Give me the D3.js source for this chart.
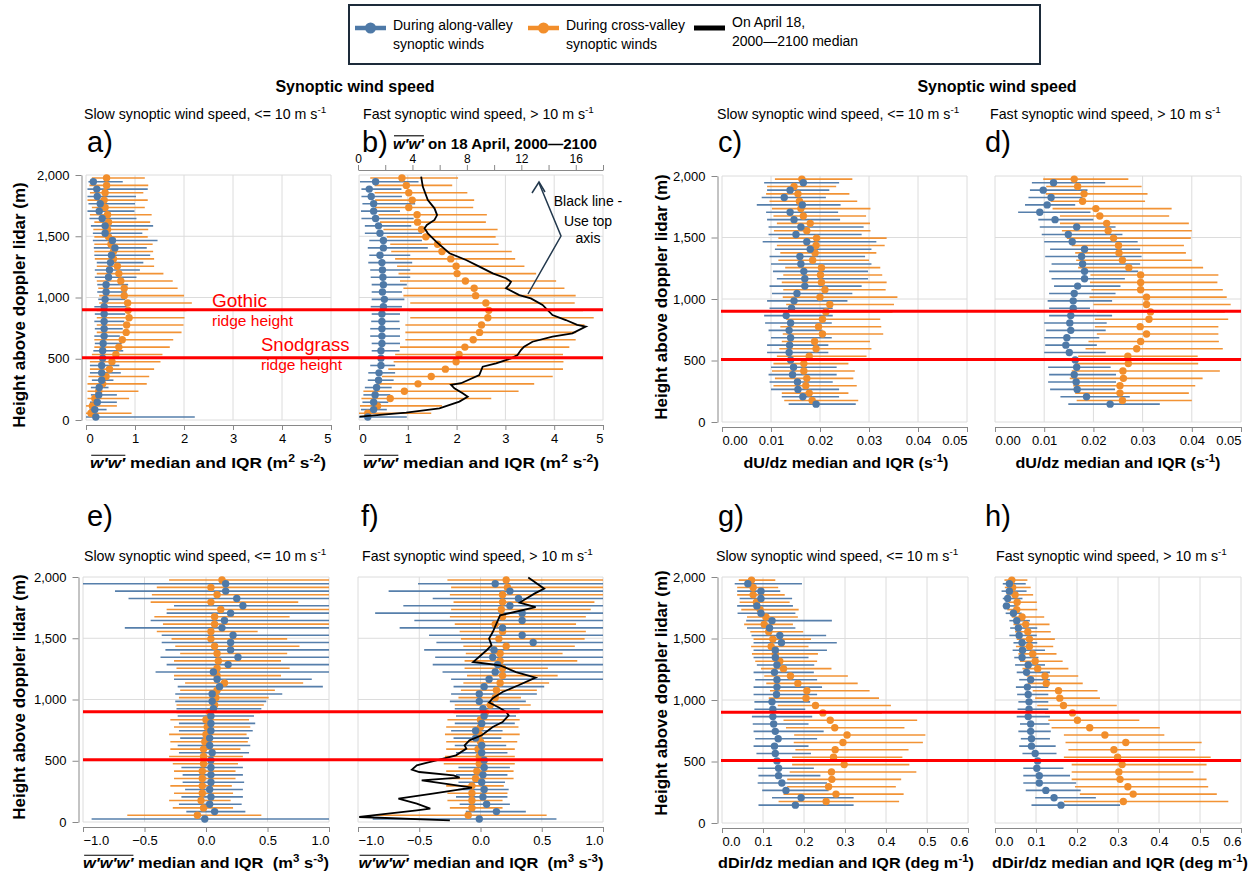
<!DOCTYPE html>
<html><head><meta charset="utf-8">
<script src="https://cdn.jsdelivr.net/npm/d3@7"></script>
<style>
body{margin:0;background:#fff}
svg{display:block}
text{font-family:Arial,"Liberation Sans",Helvetica,sans-serif;white-space:pre}
</style>
</head><body>
<svg id="chart" width="1256" height="876"></svg>
<script>
// ---------------- DATA ----------------
const heightsCross = [1975,1915,1855,1795,1735,1675,1615,1555,1495,1435,1375,1315,1255,1195,1135,1075,1015,955,895,835,775,715,655,595,535,475,415,355,295,235,175,115,55];
const heightsAlong = [1945,1885,1825,1765,1705,1645,1585,1525,1465,1405,1345,1285,1225,1165,1105,1045,985,925,865,805,745,685,625,565,505,445,385,325,265,205,145,85,25];
const yTickValues = [0,500,1000,1500,2000];
const ridgeNames = ["Gothic","Snodgrass"];
const ridgeHeights = [900,508];

// a) w'w' slow
const aCrossMed = [0.42,0.42,0.39,0.37,0.39,0.44,0.46,0.44,0.46,0.51,0.56,0.56,0.64,0.67,0.71,0.78,0.78,0.85,0.86,0.88,0.83,0.82,0.74,0.67,0.61,0.53,0.48,0.41,0.34,0.26,0.18,0.13,0.10];
const aCrossLo  = [0.12,0.07,0.08,0.03,0.12,0.08,0.17,0.15,0.17,0.17,0.17,0.18,0.22,0.22,0.22,0.25,0.27,0.27,0.22,0.22,0.22,0.22,0.17,0.17,0.12,0.08,0.08,0.05,0.03,0.03,0.03,0.0,0.0];
const aCrossHi  = [1.2,1.27,1.17,1.26,1.2,1.34,1.31,1.27,1.26,1.36,1.37,1.39,1.39,1.58,1.77,1.87,2.0,2.16,2.05,2.01,1.99,1.95,1.78,1.71,1.56,1.52,1.39,1.29,1.24,1.07,0.88,0.63,0.93];
const aAlongMed = [0.15,0.22,0.23,0.29,0.27,0.33,0.39,0.39,0.54,0.59,0.52,0.5,0.48,0.46,0.41,0.41,0.39,0.37,0.37,0.37,0.37,0.37,0.35,0.34,0.34,0.32,0.32,0.32,0.27,0.26,0.23,0.18,0.2];
const aAlongLo  = [0.05,0.03,0.03,0.05,0.03,0.07,0.1,0.14,0.14,0.16,0.17,0.22,0.18,0.18,0.23,0.23,0.25,0.17,0.18,0.17,0.18,0.17,0.18,0.15,0.17,0.08,0.08,0.12,0.1,0.1,0.08,0.07,0.0];
const aAlongHi  = [0.75,1.26,1.02,1.0,0.99,1.03,1.37,1.15,1.46,1.24,1.31,1.17,1.1,1.03,0.86,0.83,0.8,0.83,0.8,0.78,0.75,0.69,0.73,0.76,0.8,0.68,0.71,0.56,0.46,0.63,0.63,0.42,2.22];

// b) w'w' fast
const bCrossMed = [0.88,0.97,1.02,1.09,1.02,1.19,1.2,1.28,1.37,1.61,1.7,1.88,1.99,2.01,2.18,2.36,2.39,2.6,2.66,2.64,2.51,2.47,2.34,2.17,2.05,1.99,1.77,1.48,1.21,0.93,0.64,0.38,0.18];
const bCrossLo  = [0.23,0.32,0.32,0.33,0.33,0.4,0.43,0.5,0.57,0.64,0.66,0.74,0.78,0.81,0.84,0.91,0.91,1.05,1.02,1.05,0.95,0.95,0.95,0.84,0.74,0.71,0.6,0.47,0.36,0.09,0.05,0.02,0.0];
const bCrossHi  = [2.03,1.91,2.22,2.36,2.34,2.62,2.6,2.84,2.8,2.86,3.13,3.2,3.39,3.63,4.04,4.21,4.44,4.42,4.59,4.81,4.62,4.45,4.44,4.31,4.18,4.19,4.18,3.97,3.59,3.27,2.71,1.7,1.48];
const bAlongMed = [0.34,0.21,0.25,0.3,0.3,0.34,0.4,0.43,0.5,0.5,0.43,0.47,0.48,0.49,0.5,0.48,0.52,0.5,0.47,0.47,0.47,0.47,0.47,0.45,0.45,0.45,0.41,0.4,0.36,0.33,0.3,0.3,0.18];
const bAlongLo  = [0.02,0.05,0.05,0.07,0.04,0.05,0.12,0.12,0.21,0.18,0.21,0.19,0.23,0.24,0.26,0.26,0.26,0.24,0.26,0.25,0.23,0.23,0.26,0.26,0.23,0.23,0.19,0.18,0.12,0.09,0.07,0.04,0.0];
const bAlongHi  = [1.22,0.87,0.88,1.15,0.84,1.12,1.07,1.29,1.29,1.41,1.05,1.09,1.05,1.05,0.98,0.88,0.93,0.88,0.84,0.83,0.84,0.84,0.84,0.83,0.81,0.74,0.74,0.71,0.67,0.64,0.6,0.57,0.98];
// b) black line: April 18 median (top axis)
const bLineHeight = [1986,1905,1796,1728,1673,1633,1592,1565,1524,1456,1361,1306,1252,1197,1157,1129,1102,1075,1020,993,939,857,816,776,762,707,680,639,598,571,531,503,463,435,367,300,286,259,218,190,150,95,60,27];
const bLineValue  = [4.64,4.76,5.13,5.62,5.81,5.62,5.06,4.89,5.13,5.74,6.72,7.94,8.92,9.9,10.87,11.24,11.1,10.87,11.85,12.7,13.56,14.29,15.27,16.1,16.73,15.75,14.29,12.82,12.2,11.97,11.72,11.24,10.14,9.16,8.91,7.57,6.84,7.08,7.69,8.06,7.45,5.98,3.54,0.12];

// c) dU/dz slow
const cCrossMed = [0.0163,0.0147,0.0155,0.0158,0.0161,0.0166,0.018,0.0173,0.0193,0.0192,0.019,0.0185,0.0203,0.0201,0.0203,0.021,0.02,0.022,0.0212,0.0205,0.0197,0.0205,0.0189,0.0192,0.0178,0.0167,0.0167,0.0173,0.0171,0.0178,0.0184];
const cCrossLo  = [0.0108,0.0092,0.009,0.0097,0.0102,0.0105,0.0112,0.0106,0.0115,0.0112,0.0119,0.0115,0.0129,0.0125,0.0122,0.0125,0.0124,0.0131,0.0125,0.0131,0.0119,0.0124,0.0122,0.0117,0.0112,0.0105,0.0102,0.0108,0.0105,0.0122,0.0127];
const cCrossHi  = [0.0266,0.0233,0.026,0.0276,0.0303,0.0294,0.0302,0.0303,0.0336,0.0332,0.0315,0.03,0.0323,0.0327,0.0336,0.0334,0.0358,0.0351,0.0348,0.0323,0.0325,0.0329,0.0302,0.0305,0.0295,0.0258,0.0271,0.0268,0.0275,0.0258,0.0278];
const cAlongMed = [0.0166,0.0139,0.0127,0.0164,0.0139,0.0147,0.0161,0.0151,0.0173,0.018,0.0159,0.0161,0.0167,0.0169,0.0169,0.0153,0.0147,0.0142,0.0131,0.014,0.0137,0.014,0.0138,0.0137,0.014,0.0146,0.0144,0.0154,0.0155,0.0165,0.0192];
const cAlongLo  = [0.0086,0.0092,0.0081,0.0071,0.009,0.0092,0.0095,0.0095,0.0083,0.0108,0.0097,0.01,0.0104,0.0112,0.0097,0.0102,0.0092,0.0097,0.0086,0.0088,0.0095,0.01,0.0092,0.0092,0.0093,0.01,0.0095,0.0097,0.01,0.0122,0.0136];
const cAlongHi  = [0.0239,0.0219,0.0212,0.0242,0.0237,0.0241,0.0289,0.0285,0.0315,0.0305,0.0292,0.0305,0.0298,0.0298,0.0285,0.0266,0.0256,0.0226,0.0226,0.0224,0.0205,0.0224,0.0217,0.0217,0.0217,0.0234,0.0234,0.0226,0.0239,0.0239,0.0273];

// d) dU/dz fast
const dCrossMed = [0.0161,0.0168,0.0181,0.0178,0.0205,0.0213,0.0227,0.023,0.0241,0.0251,0.0252,0.0259,0.0272,0.0296,0.0296,0.0296,0.0308,0.0308,0.0316,0.0313,0.0295,0.0308,0.0296,0.0288,0.027,0.0271,0.026,0.0261,0.0254,0.0254,0.0259];
const dCrossLo  = [0.0098,0.0104,0.0103,0.0113,0.0117,0.0132,0.0132,0.0136,0.0146,0.0156,0.0163,0.0165,0.0169,0.0194,0.0193,0.0196,0.0192,0.02,0.0207,0.0203,0.0203,0.0207,0.019,0.0184,0.0169,0.0163,0.0156,0.0152,0.0159,0.0163,0.0166];
const dCrossHi  = [0.0271,0.0298,0.031,0.0305,0.0359,0.0354,0.0394,0.04,0.0398,0.0384,0.0388,0.04,0.0423,0.0454,0.0452,0.0463,0.0471,0.0479,0.0467,0.0474,0.0454,0.0454,0.0455,0.0463,0.0412,0.0413,0.0457,0.0422,0.0407,0.0394,0.04];
const dAlongMed = [0.0119,0.0098,0.0114,0.0106,0.0091,0.0122,0.0166,0.0149,0.0157,0.0182,0.0176,0.0178,0.0182,0.0182,0.0168,0.0161,0.0159,0.0159,0.0154,0.0152,0.0154,0.0146,0.0144,0.0151,0.0163,0.0166,0.0161,0.0165,0.0167,0.0186,0.0234];
const dAlongLo  = [0.0075,0.0071,0.0068,0.0061,0.0047,0.0088,0.0091,0.0095,0.01,0.0112,0.0102,0.0115,0.011,0.0115,0.012,0.011,0.0107,0.011,0.011,0.01,0.0104,0.01,0.0102,0.01,0.0106,0.0108,0.011,0.0108,0.0112,0.0133,0.0149];
const dAlongHi  = [0.0224,0.0188,0.0178,0.0163,0.0194,0.02,0.0245,0.0259,0.029,0.0295,0.0298,0.0295,0.0291,0.0264,0.0255,0.0245,0.0238,0.0193,0.0238,0.0227,0.0225,0.0212,0.0207,0.0225,0.0234,0.0235,0.0246,0.0246,0.0244,0.0274,0.0335];

// e) w'w'w' slow
const eCrossMed = [0.13,0.04,0.09,0.04,0.12,0.07,0.07,0.04,0.04,0.07,0.09,0.1,0.09,0.09,0.15,0.09,0.08,0.07,0.03,0.0,0.01,0.0,-0.01,-0.02,-0.02,-0.02,-0.03,-0.03,-0.03,-0.03,-0.04,-0.02,-0.07];
const eCrossLo  = [-0.30,-0.40,-0.44,-0.45,-0.32,-0.42,-0.35,-0.40,-0.28,-0.25,-0.21,-0.26,-0.24,-0.26,-0.17,-0.21,-0.22,-0.24,-0.24,-0.29,-0.26,-0.30,-0.29,-0.29,-0.30,-0.27,-0.26,-0.26,-0.29,-0.26,-0.30,-0.27,-0.64];
const eCrossHi  = [1.0,1.0,1.0,0.75,1.0,0.68,1.0,0.42,0.66,0.76,0.66,0.61,0.68,0.61,0.79,0.56,0.51,0.47,0.44,0.35,0.36,0.33,0.34,0.28,0.3,0.26,0.24,0.24,0.21,0.22,0.2,0.22,0.45];
const eAlongMed = [0.16,0.16,0.25,0.3,0.2,0.15,0.13,0.22,0.2,0.2,0.26,0.18,0.06,0.09,0.11,0.05,0.05,0.06,0.04,0.04,0.04,0.03,0.03,0.05,0.04,0.04,0.04,0.04,0.03,0.04,0.03,0.07,-0.01];
const eAlongLo  = [-1.0,-0.74,-0.63,-0.26,-0.32,-0.45,-0.66,-0.36,-0.36,-0.33,-0.37,-0.32,-0.41,-0.26,-0.23,-0.25,-0.25,-0.24,-0.23,-0.22,-0.22,-0.21,-0.23,-0.22,-0.19,-0.2,-0.19,-0.19,-0.17,-0.2,-0.22,-0.16,-0.93];
const eAlongHi  = [1,1,1,1,1,1,1,1,1,1,1,1,1,0.86,0.95,0.62,0.49,0.45,0.39,0.4,0.38,0.35,0.36,0.35,0.3,0.3,0.3,0.31,0.3,0.3,0.29,0.32,1.0];

// f) w'w'w' fast
const fCrossMed = [0.21,0.22,0.18,0.18,0.17,0.18,0.12,0.18,0.15,0.21,0.16,0.16,0.18,0.18,0.16,0.13,0.12,0.08,0.04,0.0,0.0,-0.01,0.0,-0.02,-0.01,-0.01,-0.03,-0.04,-0.07,-0.07,-0.07,-0.07,-0.1];
const fCrossLo  = [-0.27,-0.24,-0.25,-0.22,-0.24,-0.25,-0.21,-0.17,-0.16,-0.14,-0.12,-0.13,-0.13,-0.11,-0.14,-0.16,-0.18,-0.21,-0.22,-0.27,-0.28,-0.29,-0.28,-0.28,-0.29,-0.3,-0.28,-0.26,-0.28,-0.27,-0.27,-0.25,-0.85];
const fCrossHi  = [1,1,1,0.93,0.9,0.86,0.78,0.86,0.85,0.77,0.67,0.79,0.55,0.63,0.56,0.46,0.33,0.41,0.31,0.32,0.31,0.32,0.3,0.28,0.28,0.28,0.27,0.27,0.19,0.22,0.18,0.18,0.54];
const fAlongMed = [0.12,0.24,0.31,0.24,0.34,0.34,0.18,0.34,0.43,0.11,0.1,0.14,0.12,0.07,0.03,-0.01,-0.01,0.02,0.03,0.01,-0.04,-0.04,0.01,0.01,0.03,0.03,0.02,0.01,0.03,0.02,0.05,0.13,-0.01];
const fAlongLo  = [-0.51,-0.75,-0.39,-0.63,-0.86,-0.54,-0.66,-0.42,-0.36,-0.46,-0.37,-0.39,-0.31,-0.24,-0.22,-0.24,-0.25,-0.21,-0.2,-0.21,-0.24,-0.22,-0.21,-0.2,-0.18,-0.18,-0.2,-0.18,-0.18,-0.2,-0.17,-0.12,-0.88];
const fAlongHi  = [1,1,1,1,1,1,1,1,1,1,1,1,1,1,0.52,0.46,0.37,0.32,0.29,0.28,0.18,0.17,0.21,0.22,0.16,0.24,0.22,0.2,0.23,0.22,0.24,0.37,0.62];
// f) black line (bottom axis)
const fLineHeight = [1995,1905,1864,1791,1755,1687,1620,1551,1497,1442,1402,1306,1279,1224,1179,1116,1061,1010,975,935,898,870,816,776,708,667,626,599,544,504,463,428,408,381,362,346,340,308,281,232,191,150,109,95,41,14];
const fLineValue  = [0.39,0.52,0.44,0.32,0.45,0.16,0.13,0.10,0.07,0.09,0.05,-0.06,0.16,0.29,0.45,0.31,0.18,0.10,0.07,0.15,0.21,0.23,0.18,0.10,0.01,-0.09,-0.13,-0.115,-0.2,-0.36,-0.52,-0.56,-0.5,-0.22,-0.17,-0.4,-0.48,-0.25,-0.07,-0.39,-0.67,-0.52,-0.41,-0.52,-0.99,-0.25];

// g) dDir/dz slow
const gCrossMed = [0.072,0.076,0.076,0.084,0.093,0.107,0.103,0.114,0.124,0.12,0.13,0.141,0.15,0.167,0.185,0.207,0.205,0.228,0.246,0.264,0.275,0.305,0.295,0.276,0.272,0.298,0.267,0.268,0.26,0.278,0.254];
const gCrossLo  = [0.041,0.037,0.037,0.043,0.047,0.061,0.054,0.069,0.077,0.071,0.073,0.081,0.095,0.103,0.108,0.117,0.114,0.136,0.142,0.15,0.156,0.176,0.175,0.179,0.171,0.171,0.165,0.159,0.159,0.15,0.138];
const gCrossHi  = [0.13,0.137,0.153,0.165,0.187,0.185,0.173,0.198,0.217,0.211,0.234,0.232,0.267,0.307,0.331,0.36,0.383,0.412,0.39,0.476,0.445,0.496,0.49,0.455,0.44,0.457,0.474,0.437,0.424,0.443,0.432];
const gAlongMed = [0.063,0.095,0.095,0.085,0.095,0.122,0.116,0.141,0.145,0.13,0.13,0.134,0.128,0.134,0.134,0.133,0.122,0.124,0.124,0.126,0.13,0.137,0.128,0.13,0.134,0.138,0.138,0.146,0.156,0.193,0.179];
const gAlongLo  = [0.031,0.037,0.043,0.037,0.038,0.059,0.061,0.072,0.077,0.077,0.077,0.085,0.077,0.081,0.077,0.077,0.079,0.079,0.073,0.075,0.077,0.081,0.077,0.084,0.081,0.087,0.089,0.087,0.098,0.122,0.089];
const gAlongHi  = [0.195,0.142,0.171,0.173,0.179,0.268,0.179,0.254,0.28,0.256,0.211,0.225,0.224,0.232,0.244,0.232,0.215,0.203,0.22,0.211,0.248,0.232,0.211,0.217,0.224,0.224,0.24,0.256,0.26,0.321,0.321];

// h) dDir/dz fast
const hCrossMed = [0.041,0.043,0.049,0.054,0.053,0.066,0.075,0.08,0.084,0.084,0.092,0.098,0.104,0.122,0.125,0.155,0.158,0.167,0.189,0.201,0.231,0.268,0.319,0.29,0.299,0.31,0.302,0.305,0.324,0.337,0.313];
const hCrossLo  = [0.023,0.024,0.028,0.033,0.03,0.041,0.045,0.049,0.053,0.051,0.057,0.061,0.067,0.077,0.08,0.092,0.098,0.103,0.122,0.13,0.138,0.168,0.172,0.179,0.168,0.187,0.187,0.187,0.195,0.207,0.168];
const hCrossHi  = [0.079,0.087,0.093,0.102,0.103,0.12,0.133,0.136,0.146,0.142,0.15,0.165,0.179,0.203,0.214,0.25,0.256,0.297,0.3,0.352,0.402,0.413,0.504,0.488,0.526,0.516,0.484,0.516,0.52,0.541,0.569];
const hAlongMed = [0.035,0.035,0.031,0.028,0.045,0.053,0.057,0.059,0.066,0.067,0.066,0.081,0.077,0.087,0.079,0.081,0.083,0.083,0.081,0.087,0.087,0.089,0.089,0.098,0.104,0.102,0.108,0.108,0.124,0.144,0.161];
const hAlongLo  = [0.019,0.016,0.019,0.019,0.026,0.035,0.037,0.035,0.045,0.043,0.047,0.049,0.053,0.059,0.051,0.054,0.057,0.055,0.053,0.061,0.057,0.063,0.059,0.067,0.073,0.069,0.069,0.069,0.075,0.098,0.089];
const hAlongHi  = [0.075,0.077,0.067,0.053,0.065,0.085,0.103,0.102,0.103,0.122,0.106,0.122,0.134,0.134,0.13,0.13,0.13,0.13,0.134,0.133,0.136,0.134,0.148,0.15,0.159,0.167,0.183,0.198,0.209,0.246,0.305];

// tick labels
const wwTicks = [0,1,2,3,4,5];
const dudzTicks = [0,0.01,0.02,0.03,0.04,0.05];
const wwwTicks = [-1,-0.5,0,0.5,1];
const ddirTicks = [0,0.1,0.2,0.3,0.4,0.5,0.6];
const topAxisTicks = [0,2,4,6,8,10,12,14,16,18];
const topAxisLabels = [0,4,8,12,16];

// ---------------- STYLE / LAYOUT ----------------
const FONT = 'Arial, "Liberation Sans", Helvetica, sans-serif';
const SERIF = '"Liberation Serif", "Times New Roman", serif';
const BLUE = '#4e79a7', ORANGE = '#f28e2b';
const svg = d3.select('#chart');

const panels = [
  {id:'a', xr:[86,331], yr:[420,175], dom:[0,5], ticks:wwTicks, fmt:d3.format('d'), yAxis:true,
   cross:[aCrossMed,aCrossLo,aCrossHi], along:[aAlongMed,aAlongLo,aAlongHi]},
  {id:'b', xr:[359,603], yr:[420,175], dom:[0,5], ticks:wwTicks, fmt:d3.format('d'), yAxis:false,
   cross:[bCrossMed,bCrossLo,bCrossHi], along:[bAlongMed,bAlongLo,bAlongHi]},
  {id:'c', xr:[722,967], yr:[422,176], dom:[0,0.05], ticks:dudzTicks, fmt:d3.format('.2f'), yAxis:true,
   cross:[cCrossMed,cCrossLo,cCrossHi], along:[cAlongMed,cAlongLo,cAlongHi]},
  {id:'d', xr:[995,1241], yr:[422,176], dom:[0,0.05], ticks:dudzTicks, fmt:d3.format('.2f'), yAxis:false,
   cross:[dCrossMed,dCrossLo,dCrossHi], along:[dAlongMed,dAlongLo,dAlongHi]},
  {id:'e', xr:[83,329], yr:[822,577], dom:[-1,1], ticks:wwwTicks, fmt:d3.format('.1f'), yAxis:true,
   cross:[eCrossMed,eCrossLo,eCrossHi], along:[eAlongMed,eAlongLo,eAlongHi]},
  {id:'f', xr:[358,603], yr:[822,577], dom:[-1,1], ticks:wwwTicks, fmt:d3.format('.1f'), yAxis:false,
   cross:[fCrossMed,fCrossLo,fCrossHi], along:[fAlongMed,fAlongLo,fAlongHi]},
  {id:'g', xr:[722,968], yr:[823,577], dom:[0,0.6], ticks:ddirTicks, fmt:d3.format('.1f'), yAxis:true,
   cross:[gCrossMed,gCrossLo,gCrossHi], along:[gAlongMed,gAlongLo,gAlongHi]},
  {id:'h', xr:[995,1241], yr:[823,577], dom:[0,0.6], ticks:ddirTicks, fmt:d3.format('.1f'), yAxis:false,
   cross:[hCrossMed,hCrossLo,hCrossHi], along:[hAlongMed,hAlongLo,hAlongHi]},
];
const scales = {};

function styleAxis(g, size){
  g.select('.domain').attr('stroke','#888').attr('stroke-width',1);
  g.selectAll('.tick line').attr('stroke','#888');
  g.selectAll('.tick text').attr('fill','#000').attr('font-size',size).attr('font-family',FONT);
}

panels.forEach(p => {
  const x = d3.scaleLinear().domain(p.dom).range(p.xr).clamp(true);
  const y = d3.scaleLinear().domain([0,2000]).range(p.yr);
  scales[p.id] = {x,y};
  const g = svg.append('g').attr('class','panel-'+p.id);
  // grid
  g.append('g').selectAll('line').data(p.ticks).join('line')
    .attr('x1',d=>x(d)).attr('x2',d=>x(d)).attr('y1',y(0)).attr('y2',y(2000))
    .attr('stroke','#dcdcdc').attr('stroke-width',1);
  g.append('g').selectAll('line').data(yTickValues).join('line')
    .attr('x1',p.xr[0]).attr('x2',p.xr[1]).attr('y1',d=>y(d)).attr('y2',d=>y(d))
    .attr('stroke','#dcdcdc').attr('stroke-width',1);
  // x axis
  const xa = g.append('g').attr('transform',`translate(0,${y(0)+5})`)
    .call(d3.axisBottom(x).tickValues(p.ticks).tickFormat(p.fmt).tickSize(5).tickSizeOuter(0).tickPadding(4));
  styleAxis(xa, 13);
  const tt = xa.selectAll('.tick text');
  tt.filter((d,i)=>i===0).attr('text-anchor','start');
  tt.filter((d,i,n)=>i===n.length-1).attr('text-anchor','end');
  // y axis
  if (p.yAxis){
    const ya = g.append('g').attr('transform',`translate(${p.xr[0]-4.5},0)`)
      .call(d3.axisLeft(y).tickValues(yTickValues).tickFormat(d3.format(',')).tickSize(6).tickSizeOuter(0).tickPadding(6));
    styleAxis(ya, 13);
  }
  // series: bars then dots
  const n = p.cross[0].length;
  const series = [
    {h:heightsCross.slice(0,n), v:p.cross, c:ORANGE},
    {h:heightsAlong.slice(0,n), v:p.along, c:BLUE},
  ];
  series.forEach(s => {
    g.append('g').selectAll('line').data(s.h).join('line')
      .attr('x1',(d,i)=>x(s.v[1][i])).attr('x2',(d,i)=>x(s.v[2][i]))
      .attr('y1',d=>y(d)).attr('y2',d=>y(d))
      .attr('stroke',s.c).attr('stroke-width',1.6).attr('opacity',0.95);
  });
  series.forEach(s => {
    g.append('g').selectAll('circle').data(s.h).join('circle')
      .attr('cx',(d,i)=>x(s.v[0][i])).attr('cy',d=>y(d)).attr('r',3.7)
      .attr('fill',s.c);
  });
});

// black lines
{
  const {y} = scales.b;
  const xTop = d3.scaleLinear().domain([0,18]).range([358,603]);
  const ta = svg.append('g').attr('transform','translate(0,170)')
    .call(d3.axisTop(xTop).tickValues(topAxisTicks).tickFormat(d=>topAxisLabels.includes(d)?d:'').tickSize(5).tickSizeOuter(0).tickPadding(2));
  styleAxis(ta, 12);
  const line = d3.line().x((d,i)=>xTop(bLineValue[i])).y(d=>y(d));
  svg.append('path').attr('d',line(bLineHeight)).attr('fill','none').attr('stroke','#000').attr('stroke-width',1.8);
}
{
  const {x,y} = scales.f;
  const line = d3.line().x((d,i)=>x(fLineValue[i])).y(d=>y(d));
  svg.append('path').attr('d',line(fLineHeight)).attr('fill','none').attr('stroke','#000').attr('stroke-width',1.8);
}

// ridge lines (red)
const ridgeSpans = [
  {y:scales.a.y, x0:82, x1:603},
  {y:scales.c.y, x0:721, x1:1241},
  {y:scales.e.y, x0:83, x1:603},
  {y:scales.g.y, x0:721, x1:1241},
];
ridgeSpans.forEach(r => {
  svg.append('g').selectAll('line').data(ridgeHeights).join('line')
    .attr('x1',r.x0).attr('x2',r.x1).attr('y1',d=>r.y(d)).attr('y2',d=>r.y(d))
    .attr('stroke','#ff0000').attr('stroke-width',3);
});

// ---------------- TEXT ----------------
function txt(x,y,s,opt={}){
  const t = svg.append('text').attr('x',x).attr('y',y)
    .attr('font-size',opt.size||13).attr('font-weight',opt.bold?'bold':'normal')
    .attr('text-anchor',opt.anchor||'start').attr('fill',opt.color||'#000')
    .attr('font-family',opt.family||FONT).text(s);
  if (opt.rotate) t.attr('transform',`rotate(-90,${x},${y})`);
  return t;
}
// rich text: parts {t, sup, ww(overline italic serif)}; optional target width
function rich(x,y,parts,opt={}){
  const size = opt.size||13;
  const g = svg.append('g');
  const inner = g.append('g');
  let cx = 0;
  parts.forEach(p=>{
    const fs = p.sup ? size*0.7 : size;
    const t = inner.append('text').attr('x',cx).attr('y',p.sup? -size*0.4 : 0)
      .attr('font-size',fs).attr('font-weight',opt.bold?'bold':'normal')
      .attr('font-family',p.ww?SERIF:FONT).attr('font-style',p.ww?'italic':'normal')
      .attr('fill',opt.color||'#000').text(p.t);
    const w = t.node().getComputedTextLength();
    if (p.ww){
      inner.append('line').attr('x1',cx+1).attr('x2',cx+w).attr('y1',-size*0.88).attr('y2',-size*0.88)
        .attr('stroke','#000').attr('stroke-width',1.1);
    }
    cx += w;
  });
  const W = opt.width || cx;
  const sx = W / cx;
  inner.attr('transform',`scale(${sx},1)`);
  const dx = opt.anchor==='middle' ? -W/2 : (opt.anchor==='end' ? -W : 0);
  g.attr('transform',`translate(${x+dx},${y})`);
  return g;
}

// Titles
txt(355,92,'Synoptic wind speed',{size:16,bold:true,anchor:'middle'});
txt(997,92,'Synoptic wind speed',{size:16,bold:true,anchor:'middle'});

const slowParts = [{t:'Slow synoptic wind speed, <= 10 m s'},{t:'-1',sup:true}];
const fastParts = [{t:'Fast synoptic wind speed, > 10 m s'},{t:'-1',sup:true}];
const subSize = 14.2;
rich(84,119,slowParts,{size:subSize});
rich(363,119,fastParts,{size:subSize});
rich(717,119,slowParts,{size:subSize});
rich(990,119,fastParts,{size:subSize});
rich(84,561,slowParts,{size:subSize});
rich(362,561,fastParts,{size:subSize});
rich(716,561,slowParts,{size:subSize});
rich(996,561,fastParts,{size:subSize});

// panel letters
[['a)',87,152],['b)',362,152],['c)',718,152],['d)',985,152],
 ['e)',87,526],['f)',361,526],['g)',718,526],['h)',985,526]].forEach(([s,x,y])=>txt(x,y,s,{size:29}));

// b top title
rich(393,149,[{t:"w′w′",ww:true},{t:' on 18 April, 2000—2100'}],{size:15,bold:true,width:204});

// axis titles
const wwTitle = [{t:"w′w′",ww:true},{t:' median and IQR (m'},{t:'2',sup:true},{t:' s'},{t:'-2',sup:true},{t:')'}];
const wwwTitle = [{t:"w′w′w′",ww:true},{t:' median and IQR  (m'},{t:'3',sup:true},{t:' s'},{t:'-3',sup:true},{t:')'}];
const dudzTitle = [{t:'dU/dz median and IQR (s'},{t:'-1',sup:true},{t:')'}];
const ddirTitle = [{t:'dDir/dz median and IQR (deg m'},{t:'-1',sup:true},{t:')'}];
const xtOpt = {size:14.5,bold:true,anchor:'middle'};
rich(208,468,wwTitle,{...xtOpt,width:236});
rich(481,468,wwTitle,{...xtOpt,width:236});
rich(846,468,dudzTitle,{...xtOpt,width:205});
rich(1118,468,dudzTitle,{...xtOpt,width:205});
rich(206,868,wwwTitle,{...xtOpt,width:246});
rich(481,868,wwwTitle,{...xtOpt,width:245});
rich(846,868,ddirTitle,{...xtOpt,width:256});
rich(1120,868,ddirTitle,{...xtOpt,width:256});

// y titles
[[25,305],[667,297],[25,697],[667,693]].forEach(([x,y])=>
  txt(x,y,'Height above doppler lidar (m)',{size:17,bold:true,anchor:'middle',rotate:true}));

// ridge labels
txt(212,307,ridgeNames[0],{size:19,color:'#ff0000'});
txt(212,326,'ridge height',{size:15.5,color:'#ff0000'});
txt(261,351,ridgeNames[1],{size:18.5,color:'#ff0000'});
txt(261,370,'ridge height',{size:15.5,color:'#ff0000'});

// annotation arrow in b
svg.append('path').attr('d','M528,294 L561,236 L539,183').attr('fill','none').attr('stroke','#22384d').attr('stroke-width',1.5);
svg.append('path').attr('d','M532,193 L539,182 L545,192').attr('fill','none').attr('stroke','#22384d').attr('stroke-width',1.5);
txt(588,206,'Black line -',{size:14,anchor:'middle'});
txt(588,226,'Use top',{size:14,anchor:'middle'});
txt(588,243,'axis',{size:14,anchor:'middle'});

// legend
svg.append('rect').attr('x',349).attr('y',5).attr('width',691).attr('height',59)
  .attr('fill','#fff').attr('stroke','#1d2b3a').attr('stroke-width',2);
const legendItems = [
  {label:['During along-valley','synoptic winds'], color:BLUE, x:355, dot:true},
  {label:['During cross-valley','synoptic winds'], color:ORANGE, x:528, dot:true},
  {label:['On April 18,','2000—2100 median'], color:'#000', x:694, dot:false},
];
legendItems.forEach(it=>{
  svg.append('line').attr('x1',it.x).attr('x2',it.x+31).attr('y1',28).attr('y2',28)
    .attr('stroke',it.color).attr('stroke-width',it.dot?4.5:5);
  if (it.dot) svg.append('circle').attr('cx',it.x+15.5).attr('cy',28).attr('r',5.5).attr('fill',it.color);
  txt(it.x+38, it.dot?30:27, it.label[0],{size:14});
  txt(it.x+38, it.dot?49:46, it.label[1],{size:14});
});
</script>
</body></html>
